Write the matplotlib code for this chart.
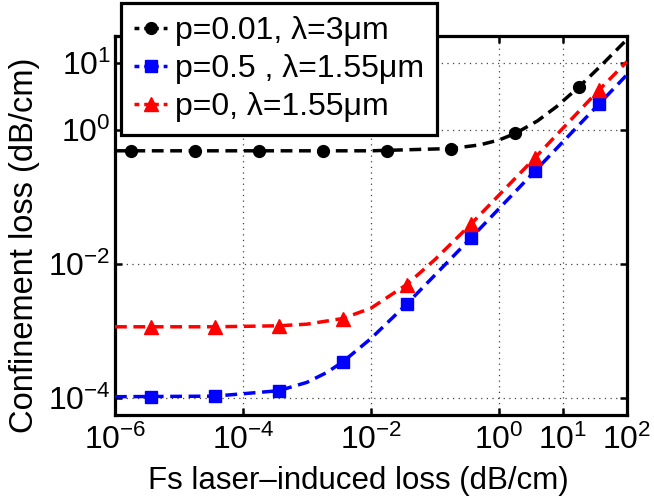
import matplotlib
matplotlib.use("Agg")
import matplotlib.pyplot as plt
from matplotlib.lines import Line2D

plt.rcParams['font.family'] = ['Liberation Sans', 'DejaVu Sans']
plt.rcParams['mathtext.fontset'] = 'custom'
plt.rcParams['mathtext.rm'] = 'Liberation Sans'
plt.rcParams['mathtext.it'] = 'Liberation Sans'
plt.rcParams['mathtext.default'] = 'regular'

# ---- data ----
labels = ["p=0.01, λ=3μm", "p=0.5 , λ=1.55μm", "p=0, λ=1.55μm"]
colors = ["#000000", "#0000ff", "#ff0000"]
markers = ["o", "s", "^"]
msizes = [8.5, 8, 10.5]

# markers
black_mx = [1.8e-6, 1.8e-5, 1.8e-4, 1.8e-3, 1.8e-2, 1.8e-1, 1.8, 18]
black_my = [0.49, 0.49, 0.49, 0.49, 0.49, 0.53, 0.89, 4.4]
blue_mx = [3.6e-6, 3.6e-5, 3.6e-4, 3.6e-3, 3.6e-2, 0.36, 3.6, 36]
blue_my = [1.05e-4, 1.07e-4, 1.29e-4, 3.46e-4, 2.52e-3, 0.0242, 0.241, 2.41]
red_mx = [3.6e-6, 3.6e-5, 3.6e-4, 3.6e-3, 3.6e-2, 0.36, 3.6, 36]
red_my = [1.16e-3, 1.16e-3, 1.2e-3, 1.54e-3, 4.94e-3, 0.039, 0.38, 3.9]

# dashed curves
black_cx = [1e-6, 1e-4, 1e-2, 0.18, 0.5, 1, 1.8, 4, 8, 18, 40, 100]
black_cy = [0.49, 0.49, 0.49, 0.53, 0.60, 0.71, 0.89, 1.37, 2.25, 4.45, 9.3, 22.5]
blue_cx = [1e-6, 3.6e-5, 3.6e-4, 1e-3, 2e-3, 3.6e-3, 1e-2, 3.6e-2, 0.36, 3.6, 36, 100]
blue_cy = [1.05e-4, 1.07e-4, 1.29e-4, 1.72e-4, 2.39e-4, 3.46e-4, 7.75e-4, 2.52e-3,
           0.0242, 0.241, 2.41, 6.7]
red_cx = [1e-6, 3.6e-5, 3.6e-4, 1e-3, 3.6e-3, 1e-2, 3.6e-2, 0.1, 0.36, 3.6, 36, 100]
red_cy = [1.16e-3, 1.16e-3, 1.2e-3, 1.27e-3, 1.54e-3, 2.2e-3, 4.94e-3, 0.0117,
          0.039, 0.38, 3.9, 10.5]

xticks = [1e-6, 1e-4, 1e-2, 1, 10, 100]
yticks = [1e-4, 1e-2, 1, 10]

fig = plt.figure(figsize=(6.54, 4.99), dpi=100)
ax = fig.add_axes([115/654, 1-415/499, (627-115)/654, (415-36)/499])

curves = [(black_cx, black_cy, black_mx, black_my),
          (blue_cx, blue_cy, blue_mx, blue_my),
          (red_cx, red_cy, red_mx, red_my)]
handles = []
for (cx, cy, mx, my), c, m, ms, lab in zip(curves, colors, markers, msizes, labels):
    ax.plot(cx, cy, color=c, lw=2.5, dashes=(3.4, 1.9), zorder=3)
    ax.plot(mx, my, linestyle='none', marker=m, ms=ms, color=c, mec=c, zorder=4)
    handles.append(Line2D([], [], color=c, lw=2.5, dashes=(1.4, 1.4), marker=m,
                          ms=ms, mec=c, label=lab))

ax.set_xscale('log')
ax.set_yscale('log')
ax.set_xlim(1e-6, 1e2)
ax.set_ylim(5.6e-5, 25.3)
ax.set_xticks(xticks)
ax.set_yticks(yticks)
ax.minorticks_off()
ax.tick_params(which='both', direction='in', top=True, right=True, length=5,
               width=1.8, labelsize=23)
ax.tick_params(axis='x', pad=7)
ax.tick_params(axis='y', pad=3)
ax.grid(True, which='major', color='#444444', linestyle=(0, (1, 3.5)), lw=0.9)
for s in ax.spines.values():
    s.set_linewidth(2.3)

ax.set_xlabel("Fs laser\u2013induced loss (dB/cm)", fontsize=22.5)
ax.xaxis.set_label_coords((358 - 115) / 512, -(466 - 415) / 379)
ax.set_ylabel("Confinement loss (dB/cm)", fontsize=23.5)
ax.yaxis.set_label_coords(-(115 - 40) / 512, 1 - (245 - 36) / 379)

leg = fig.legend(handles=handles, loc='upper left',
                 bbox_to_anchor=(121/654, 1-3/499), fontsize=23,
                 handlelength=1.05, handletextpad=0.25, labelspacing=0.25,
                 borderpad=0.4, borderaxespad=0, fancybox=False,
                 framealpha=1, edgecolor='black')
leg.get_frame().set_linewidth(2.3)

fig.savefig("out.png", dpi=100)
